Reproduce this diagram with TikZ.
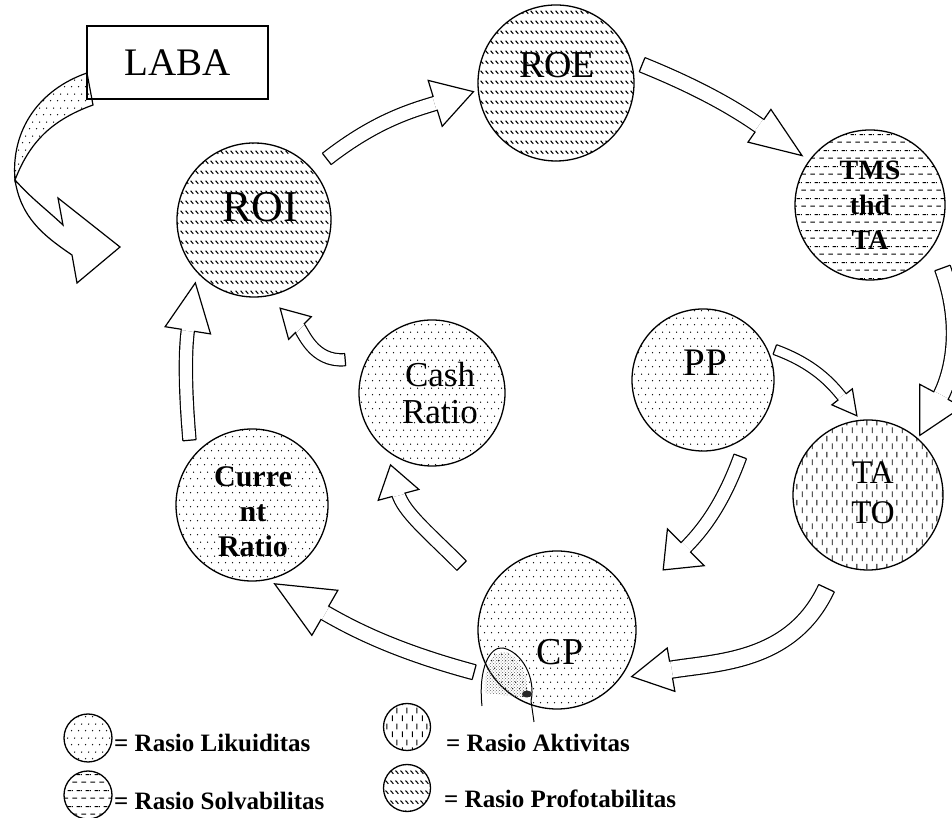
\documentclass[tikz,border=0pt]{standalone}
\usepackage{fontspec}
\setmainfont{Liberation Serif}
\usetikzlibrary{patterns,calc,decorations.markings}

% fill patterns of the four ratio groups
\pgfdeclarepatternformonly{likdots}{\pgfqpoint{0pt}{0pt}}{\pgfqpoint{7pt}{14pt}}{\pgfqpoint{7pt}{14pt}}{%
  \pgfpathcircle{\pgfqpoint{1.75pt}{3.5pt}}{0.8pt}%
  \pgfpathcircle{\pgfqpoint{5.25pt}{10.5pt}}{0.8pt}%
  \pgfusepath{fill}}
\pgfdeclarepatternformonly{solvdash}{\pgfqpoint{0pt}{0pt}}{\pgfqpoint{9pt}{16pt}}{\pgfqpoint{9pt}{16pt}}{%
  \pgfsetlinewidth{1.1pt}%
  \pgfpathmoveto{\pgfqpoint{0.5pt}{4pt}}\pgfpathlineto{\pgfqpoint{5.5pt}{4pt}}%
  \pgfpathmoveto{\pgfqpoint{5pt}{12pt}}\pgfpathlineto{\pgfqpoint{9pt}{12pt}}%
  \pgfpathmoveto{\pgfqpoint{0pt}{12pt}}\pgfpathlineto{\pgfqpoint{1pt}{12pt}}%
  \pgfusepath{stroke}}
\pgfdeclarepatternformonly{aktdash}{\pgfqpoint{0pt}{0pt}}{\pgfqpoint{10pt}{16pt}}{\pgfqpoint{10pt}{16pt}}{%
  \pgfsetlinewidth{1pt}%
  \pgfpathmoveto{\pgfqpoint{2.5pt}{1pt}}\pgfpathlineto{\pgfqpoint{2.5pt}{7pt}}%
  \pgfpathmoveto{\pgfqpoint{7.5pt}{9pt}}\pgfpathlineto{\pgfqpoint{7.5pt}{15pt}}%
  \pgfusepath{stroke}}
\pgfdeclarepatternformonly{profhatch}{\pgfqpoint{0pt}{0pt}}{\pgfqpoint{5pt}{10pt}}{\pgfqpoint{5pt}{10pt}}{%
  \pgfsetlinewidth{1.2pt}%
  \pgfpathmoveto{\pgfqpoint{0.7pt}{8pt}}\pgfpathlineto{\pgfqpoint{4pt}{4.5pt}}%
  \pgfusepath{stroke}}

\tikzset{
  ratiocirc/.style={circle, draw, line width=1.3pt, inner sep=0pt, minimum size=#1},
  likuid/.style={ratiocirc=#1, pattern=likdots},
  solva/.style={ratiocirc=#1, pattern=solvdash},
  aktiv/.style={ratiocirc=#1, pattern=aktdash},
  profit/.style={ratiocirc=#1, pattern=profhatch},
  lbl/.style={align=center, inner sep=0pt},
  legtext/.style={anchor=base west, inner sep=0pt, font=\fontsize{25}{27}\selectfont\bfseries},
  % hollow block arrow: shaft width / head length / head half width
  blkarrow/.style n args={3}{line width=1.2pt, double=white, double distance=#1, shorten >=#2-2pt,
    postaction={decorate, decoration={markings,
      mark=at position 0.0001 with {\draw[line width=1.2pt, shorten >=0pt] (0,-#1/2-0.6pt) -- (0,#1/2+0.6pt);},
      mark=at position 0.9999 with {\draw[line width=1.2pt, shorten >=0pt, fill=white, line join=miter] (-#2,-#3) -- (0,0) -- (-#2,#3) -- cycle;
        \fill[white] (-#2-0.7pt,-#1/2) rectangle (-#2+2pt,#1/2);}}}},
}

\begin{document}
\begin{tikzpicture}[x=1pt, y=1pt]
\useasboundingbox (0,0) rectangle (952,818);

% Ratio circles
\node[profit=154pt] (roi) at (254,598) {};
\node[profit=156pt] (roe) at (556,735) {};
\node[solva=150pt] (tms) at (870,613) {};
\node[likuid=142pt] (pp) at (703,438) {};
\node[aktiv=150pt] (tato) at (868,323) {};
\node[likuid=158pt] (cp) at (557,188) {};
\node[likuid=152pt] (curr) at (252,313) {};
\node[likuid=146pt] (cash) at (432,425) {};

% LABA box and its twisted arrow
\node[draw, line width=1.2pt, minimum width=181pt, minimum height=73pt, inner sep=0pt,
  font=\fontsize{39}{42}\selectfont] (laba) at (177.5,755.5) {LABA};
\draw[line width=1.2pt, pattern=likdots] (87,745) to[out=199, in=95] (15,638)
  to[out=69, in=200] (93,713) -- cycle;
\draw[line width=1.2pt, fill=white, line join=miter] (15,638) to[out=-48, in=137] (63,593)
  -- (58,620) -- (120,571) -- (77,535) -- (72,563) to[out=146, in=-81] (15,638) -- cycle;

% Arrows round the cycle
\draw[blkarrow={13pt}{40pt}{24pt}] ($(roi)+(40:95)$) to[out=38, in=197] ($(roe)+(186:83)$);
\draw[blkarrow={14pt}{52pt}{20pt}] ($(roe)+(12:88)$) to[out=-22, in=145] ($(tms)+(144:84)$);
\draw[blkarrow={15pt}{45pt}{24pt}] ($(tms)+(-41:96)$) to[out=-70, in=62] ($(tato)+(49:79)$);
\draw[blkarrow={9pt}{24pt}{13pt}] ($(pp)+(23:78)$) to[out=-20, in=128] ($(tato)+(98:80)$);
\draw[blkarrow={16pt}{40pt}{22pt}] ($(tato)+(-114:102)$) to[out=-115, in=10] ($(cp)+(-32:88)$);
\draw[blkarrow={12pt}{32pt}{26pt}] ($(pp)+(-64:85)$) to[out=-110, in=45] ($(cp)+(29.5:122)$);
\draw[blkarrow={14pt}{58pt}{26pt}] ($(cp)+(207:93)$) to[out=165, in=-30] ($(curr)+(-74:82)$);
\draw[blkarrow={12pt}{31pt}{21pt}] ($(cp)+(146:115)$) to[out=135, in=-75] ($(cash)+(-120:83)$);
\draw[blkarrow={11pt}{28pt}{16pt}] ($(cash)+(159:93)$) to[out=185, in=-45] ($(roi)+(-73.5:92)$);
\draw[blkarrow={12pt}{48pt}{23pt}] ($(curr)+(134:90)$) to[out=95, in=-99] ($(roi)+(227:86)$);

% scribble on CP
\fill[pattern=crosshatch dots, pattern color=black!60] (485,125) .. controls (483,155) and (495,167) .. (505,166)
  .. controls (520,162) and (530,140) .. (527,120) -- cycle;
\draw[line width=1pt] (482,112) .. controls (478,150) and (490,172) .. (503,170)
  .. controls (522,166) and (536,140) .. (531,117) -- (534,96);
\fill[black!85] (527,124) ellipse (5 and 3.5);

% Labels inside the circles
\node[lbl, font=\fontsize{44}{48}\selectfont] (roi-t) at (260,611) {ROI};
\node[lbl, font=\fontsize{38}{42}\selectfont] (roe-t) at (557,753) {ROE};
\node[lbl, font=\fontsize{28}{35}\selectfont\bfseries] (tms-t) at (870,613) {TMS\\thd\\TA};
\node[lbl, font=\fontsize{39}{42}\selectfont] (pp-t) at (705,455) {PP};
\node[lbl, font=\fontsize{33}{40}\selectfont] (tato-t) at (873,325) {TA\\TO};
\node[lbl, font=\fontsize{38}{42}\selectfont] (cp-t) at (560,166) {CP};
\node[lbl, font=\fontsize{35}{37}\selectfont] (cash-t) at (440,425) {Cash\\Ratio};
\node[lbl, font=\fontsize{30}{35}\selectfont\bfseries] (curr-t) at (253,306) {Curre\\nt\\Ratio};

% Legend
\node[likuid=48pt] (leg-lik) at (88,80) {};
\node[legtext] (leg-lik-t) at (114,66) {= Rasio Likuiditas};
\node[solva=48pt] (leg-sol) at (88,23) {};
\node[legtext] (leg-sol-t) at (114,8) {= Rasio Solvabilitas};
\node[aktiv=47pt] (leg-akt) at (407,91) {};
\node[legtext] (leg-akt-t) at (446,66) {= Rasio Aktivitas};
\node[profit=47pt] (leg-pro) at (407,30) {};
\node[legtext] (leg-pro-t) at (444,10) {= Rasio Profotabilitas};

\end{tikzpicture}
\end{document}
